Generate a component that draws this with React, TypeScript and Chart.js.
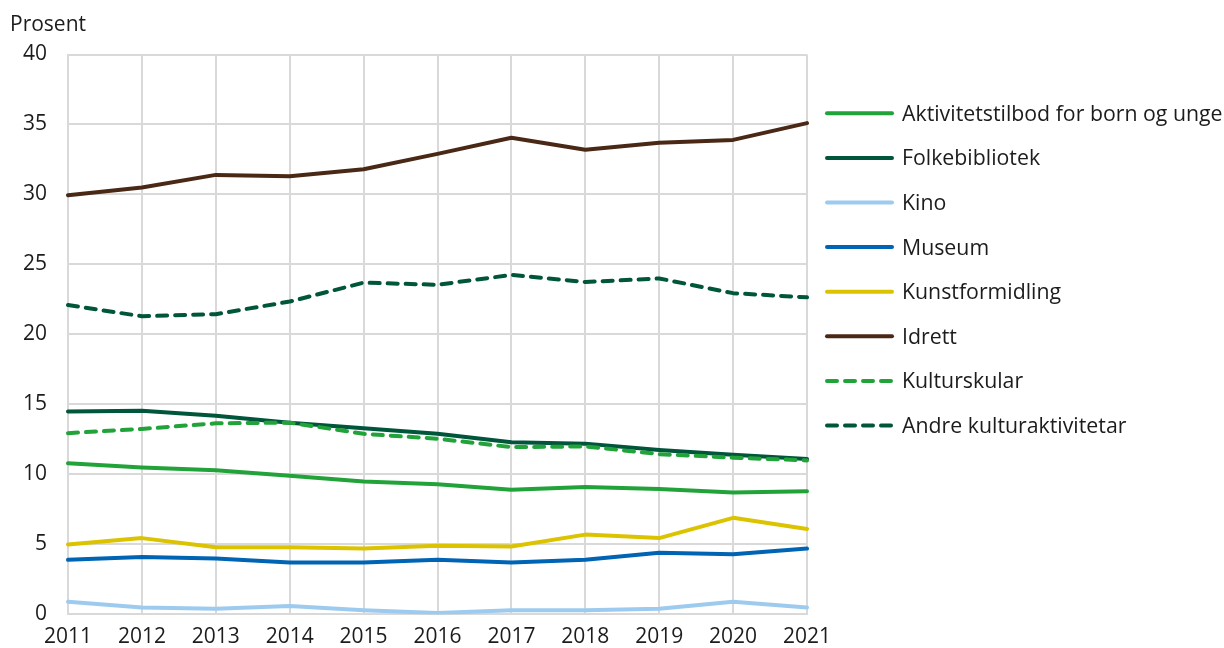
import React, { useEffect, useRef } from "react";
import { Chart, registerables } from "chart.js";

Chart.register(...registerables);

const years = ["2011", "2012", "2013", "2014", "2015", "2016", "2017", "2018", "2019", "2020", "2021"];

const aktivitetstilbod = [10.8, 10.5, 10.3, 9.9, 9.5, 9.3, 8.9, 9.1, 8.95, 8.7, 8.8];
const folkebibliotek = [14.5, 14.55, 14.2, 13.7, 13.3, 12.9, 12.3, 12.2, 11.75, 11.4, 11.1];
const kino = [0.9, 0.5, 0.4, 0.6, 0.3, 0.1, 0.3, 0.3, 0.4, 0.9, 0.5];
const museum = [3.9, 4.1, 4.0, 3.7, 3.7, 3.9, 3.7, 3.9, 4.4, 4.3, 4.7];
const kunstformidling = [5.0, 5.45, 4.8, 4.8, 4.7, 4.9, 4.85, 5.7, 5.45, 6.9, 6.1];
const idrett = [29.95, 30.5, 31.4, 31.3, 31.8, 32.9, 34.05, 33.2, 33.7, 33.9, 35.1];
const kulturskular = [12.95, 13.25, 13.65, 13.7, 12.9, 12.55, 11.95, 12.0, 11.45, 11.2, 11.0];
const andreKultur = [22.1, 21.3, 21.45, 22.35, 23.7, 23.55, 24.25, 23.75, 24.0, 22.95, 22.65];

const seriesLabels = [
  "Aktivitetstilbod for born og unge",
  "Folkebibliotek",
  "Kino",
  "Museum",
  "Kunstformidling",
  "Idrett",
  "Kulturskular",
  "Andre kulturaktivitetar",
];
const seriesValues = [aktivitetstilbod, folkebibliotek, kino, museum, kunstformidling, idrett, kulturskular, andreKultur];
const seriesColors = ["#22a33a", "#00563a", "#9dcbef", "#0064b4", "#dcc300", "#4a2816", "#22a33a", "#00563a"];
const seriesDashed = [false, false, false, false, false, false, true, true];

const yTicks = [0, 5, 10, 15, 20, 25, 30, 35, 40];

const FONT = '"Open Sans", "Noto Sans", sans-serif';
const TEXT = "#1c1c1c";
const GRID = "#d9d9d9";
const DASH = [10, 8];

const overlayPlugin = {
  id: "overlay",
  afterDraw(chart: any) {
    const ctx = chart.ctx;
    ctx.save();
    ctx.font = `21px ${FONT}`;
    ctx.fillStyle = TEXT;
    ctx.textBaseline = "alphabetic";
    ctx.textAlign = "left";
    ctx.fillText("Prosent", 10, 31);

    ctx.font = `21.3px ${FONT}`;
    const ds = chart.data.datasets;
    for (let i = 0; i < ds.length; i++) {
      const y = 113.3 + i * 44.6;
      ctx.beginPath();
      ctx.lineWidth = 4;
      ctx.lineCap = "round";
      ctx.strokeStyle = ds[i].borderColor;
      ctx.setLineDash(ds[i].borderDash || []);
      ctx.moveTo(827, y);
      ctx.lineTo(892, y);
      ctx.stroke();
      ctx.setLineDash([]);
      ctx.fillStyle = TEXT;
      ctx.fillText(ds[i].label, 902, y + 7.5);
    }
    ctx.restore();
  },
};

export default function App() {
  const ref = useRef<HTMLCanvasElement>(null);
  useEffect(() => {
    if (!ref.current) return;
    const n = seriesLabels.length;
    const chart = new Chart(ref.current, {
      type: "line",
      data: {
        labels: years,
        datasets: seriesLabels.map((label, i) => ({
          label,
          data: seriesValues[i],
          borderColor: seriesColors[i],
          backgroundColor: seriesColors[i],
          borderWidth: 4,
          borderDash: seriesDashed[i] ? DASH : [],
          borderCapStyle: "round",
          borderJoinStyle: "round",
          pointRadius: 0,
          tension: 0,
          order: n - i,
        })),
      },
      options: {
        responsive: false,
        animation: false,
        layout: { padding: { left: 0, top: 54.5, right: 417, bottom: 0 } },
        plugins: { legend: { display: false }, tooltip: { enabled: false } },
        scales: {
          x: {
            type: "category",
            offset: false,
            grid: { color: GRID, lineWidth: 2, drawTicks: false },
            border: { color: GRID, width: 2 },
            ticks: { color: TEXT, font: { family: FONT, size: 21 }, padding: 10, maxRotation: 0 },
            afterFit: (s: any) => {
              s.height = 28.9;
            },
          },
          y: {
            min: 0,
            max: 40,
            afterBuildTicks: (s: any) => {
              s.ticks = yTicks.map((v) => ({ value: v }));
            },
            grid: { color: GRID, lineWidth: 2, drawTicks: false },
            border: { color: GRID, width: 2 },
            ticks: { color: TEXT, font: { family: FONT, size: 21 }, padding: 21 },
            afterFit: (s: any) => {
              s.width = 68;
            },
          },
        },
      },
      plugins: [overlayPlugin],
    } as any);
    return () => chart.destroy();
  }, []);
  return (
    <div style={{ position: "fixed", left: 0, top: 0, width: 1224, height: 648, background: "#fff" }}>
      <canvas ref={ref} width={1224} height={648} style={{ width: 1224, height: 648, display: "block" }} />
    </div>
  );
}
